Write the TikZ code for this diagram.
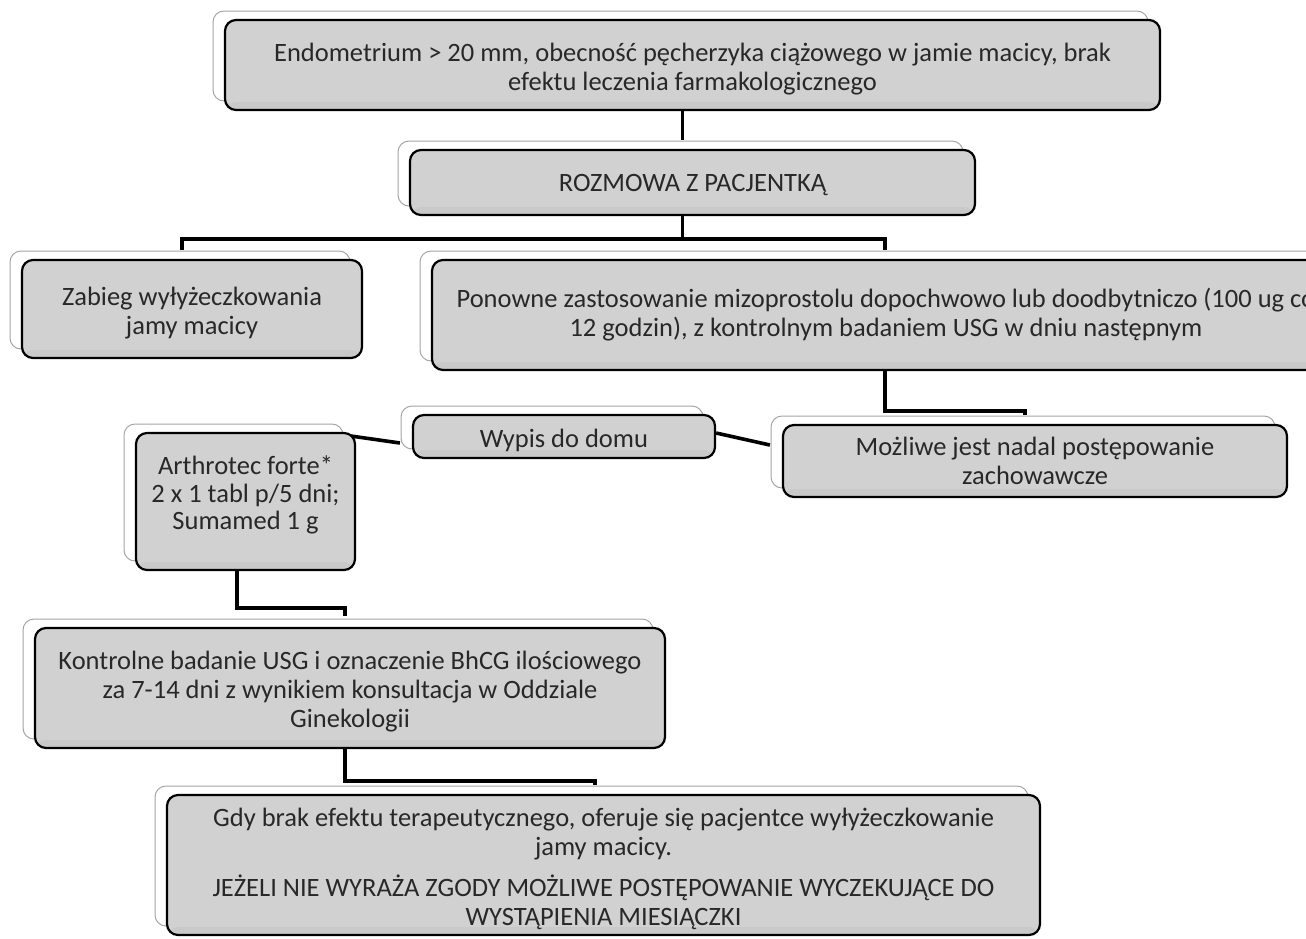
\documentclass[tikz,border=0pt]{standalone}
\usepackage{fontspec}
\setmainfont{Carlito}
\usetikzlibrary{shadows,calc}
\definecolor{boxgray}{RGB}{209,209,209}
\definecolor{bandgray}{RGB}{201,201,201}
\definecolor{backline}{RGB}{165,165,165}
\definecolor{txt}{RGB}{40,40,40}
\newcommand\cardstrut{\rule{0pt}{26pt}}
\newcommand\cardlift{\rule[-17pt]{0pt}{0pt}}
\pgfdeclarelayer{background}
\pgfsetlayers{background,main}
\tikzset{
  card/.style={draw=black, line width=2.2pt, fill=boxgray, rounded corners=11pt,
    text=txt, align=center, inner sep=4pt, font=\fontsize{26.5}{29}\selectfont,
    copy shadow={shadow xshift=-12pt, shadow yshift=9pt, fill=white, draw=backline, line width=1pt},
    path picture={\fill[bandgray] (path picture bounding box.south west) rectangle ([yshift=8pt]path picture bounding box.south east);}},
  conn/.style={draw=black, line width=3.6pt}
}
\begin{document}
\begin{tikzpicture}[x=1pt,y=1pt]
\useasboundingbox (0,0) rectangle (1306,-938);
\clip (0,0) rectangle (1306,-938);
\node[card, minimum width=935pt, minimum height=90pt] (top) at (692.5,-65)
  {\cardstrut Endometrium > 20 mm, obecność pęcherzyka ciążowego w jamie macicy, brak\\efektu leczenia farmakologicznego};
\node[card, minimum width=565pt, minimum height=65pt] (rozm) at (692.5,-182.5) {\rule{0pt}{23pt}ROZMOWA Z PACJENTKĄ};
\node[card, minimum width=340pt, minimum height=98pt] (zab) at (192,-309) {\cardstrut Zabieg wyłyżeczkowania\\jamy macicy};
\node[card, minimum width=908pt, minimum height=110pt] (pon) at (886,-315)
  {Ponowne zastosowanie mizoprostolu dopochwowo lub doodbytniczo (100 ug co\\12 godzin), z kontrolnym badaniem USG w dniu następnym};
\node[card, minimum width=302pt, minimum height=43pt] (wyp) at (564,-436.5) {\cardstrut Wypis do domu};
\node[card, minimum width=504pt, minimum height=72pt] (moz) at (1035,-461) {Możliwe jest nadal postępowanie\\zachowawcze};
\node[card, minimum width=219pt, minimum height=137pt, font=\fontsize{26.5}{27.5}\selectfont] (art) at (245.5,-501.5) {Arthrotec forte*\\2 x 1 tabl p/5 dni;\\Sumamed 1 g\cardlift};
\node[card, minimum width=630pt, minimum height=120pt] (kon) at (350,-688)
  {\cardstrut Kontrolne badanie USG i oznaczenie BhCG ilościowego\\za 7-14 dni z wynikiem konsultacja w Oddziale\\Ginekologii};
\node[card, minimum width=873pt, minimum height=140pt] (gdy) at (603.5,-865)
  {\cardstrut Gdy brak efektu terapeutycznego, oferuje się pacjentce wyłyżeczkowanie\\jamy macicy.\\[12pt]JEŻELI NIE WYRAŻA ZGODY MOŻLIWE POSTĘPOWANIE WYCZEKUJĄCE DO\\WYSTĄPIENIA MIESIĄCZKI};
\begin{pgfonlayer}{background}
\draw[conn] ([xshift=-10pt]top.south) -- ([xshift=-10pt,yshift=9pt]rozm.north);
\draw[conn] ([xshift=-10pt]rozm.south) -- ++(0,-25);
\draw[conn] ([xshift=-10pt,yshift=9pt]zab.north) -- ++(0,11) -| ([xshift=-1pt,yshift=9pt]pon.north);
\draw[conn] ([xshift=-1pt]pon.south) -- ++(0,-40) -| ([xshift=-10pt,yshift=9pt]moz.north);
\draw[conn] ([yshift=3.5pt]wyp.east) -- ([xshift=-12pt,yshift=16pt]moz.west);
\draw[conn] ([xshift=-12pt,yshift=-6.5pt]wyp.west) -- ([xshift=-6pt,yshift=-4pt]art.north east);
\draw[conn] ([xshift=-8.5pt]art.south) -- ++(0,-37) -| ([xshift=-5pt,yshift=11pt]kon.north);
\draw[conn] ([xshift=-5pt]kon.south) -- ++(0,-32) -| ([xshift=-8.5pt,yshift=9pt]gdy.north);
\end{pgfonlayer}
\end{tikzpicture}
\end{document}
